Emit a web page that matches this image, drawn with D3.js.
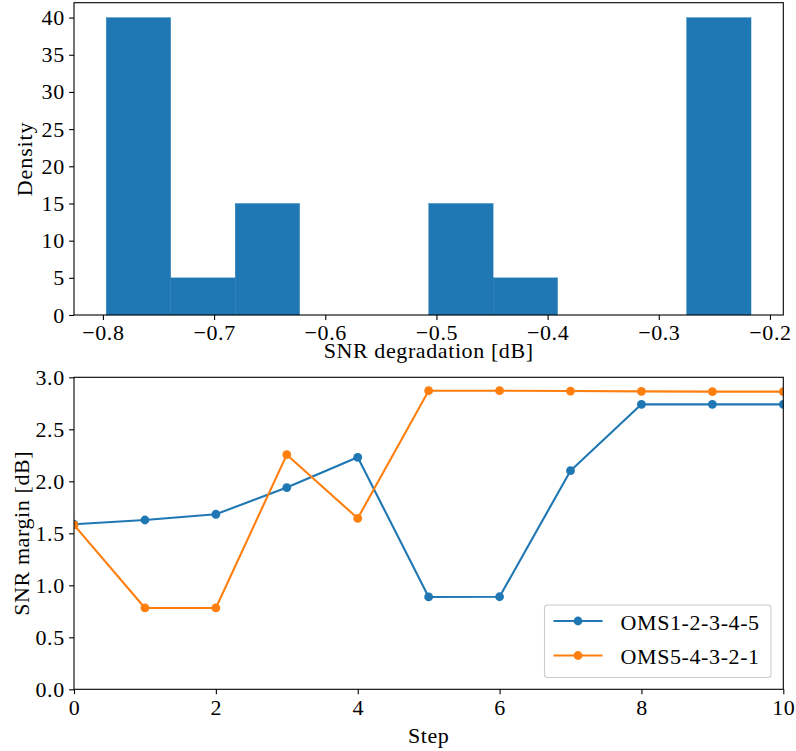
<!DOCTYPE html>
<html>
<head>
<meta charset="utf-8">
<script src="https://cdn.jsdelivr.net/npm/d3@7"></script>
<style>
  html, body { margin: 0; padding: 0; background: #fff; }
  svg { display: block; }
  text { font-family: "Liberation Serif", "Times New Roman", serif; fill: #000; letter-spacing: 0.6px; }
</style>
</head>
<body>
<svg id="chart" width="796" height="751"></svg>
<script>
// ---------- Data ----------
const binEdges = [-0.797, -0.739, -0.681, -0.623, -0.565, -0.507, -0.449, -0.391, -0.333, -0.275, -0.217];
const densities = [40, 5, 15, 0, 0, 15, 5, 0, 0, 40];
const histXTicks = [-0.8, -0.7, -0.6, -0.5, -0.4, -0.3, -0.2];
const histYTicks = [0, 5, 10, 15, 20, 25, 30, 35, 40];

const steps = [0, 1, 2, 3, 4, 5, 6, 7, 8, 9, 10];
const oms12345 = [1.587, 1.628, 1.683, 1.940, 2.231, 0.888, 0.890, 2.102, 2.740, 2.740, 2.740];
const oms54321 = [1.580, 0.782, 0.782, 2.256, 1.644, 2.871, 2.871, 2.868, 2.865, 2.862, 2.862];
const seriesNames = ["OMS1-2-3-4-5", "OMS5-4-3-2-1"];
const lineXTicks = [0, 2, 4, 6, 8, 10];
const lineYTicks = [0, 0.5, 1.0, 1.5, 2.0, 2.5, 3.0];

const colors = ["#1f77b4", "#ff7f0e"];
const FONT = 22;
const TICKLEN = 4.9, TICKPAD = 4.9;
const SERIF = '"Liberation Serif", "Times New Roman", serif';

const svg = d3.select("#chart");

// ---------- Top: histogram ----------
const L = 74, R = 783.3;
const top1 = 2.7, bot1 = 315;
const span = binEdges[binEdges.length - 1] - binEdges[0];
const x1 = d3.scaleLinear()
  .domain([binEdges[0] - 0.05 * span, binEdges[binEdges.length - 1] + 0.05 * span])
  .range([L, R]);
const y1 = d3.scaleLinear().domain([0, d3.max(densities) * 1.05]).range([bot1, top1]);

const g1 = svg.append("g");
const bins = densities.map((d, i) => ({ x0: binEdges[i], x1: binEdges[i + 1], v: d }));
g1.selectAll("rect.bar").data(bins).enter().append("rect")
  .attr("class", "bar")
  .attr("x", d => x1(d.x0))
  .attr("width", d => x1(d.x1) - x1(d.x0))
  .attr("y", d => y1(d.v))
  .attr("height", d => y1(0) - y1(d.v))
  .attr("fill", colors[0])
  .attr("stroke", colors[0]).attr("stroke-width", 0.3);

function styleAxis(g, left) {
  g.select(".domain").remove();
  g.attr("font-family", null).attr("font-size", null);
  g.selectAll(".tick line").attr("stroke", "#000").attr("stroke-width", 1.1);
  g.selectAll(".tick text").style("font-size", FONT + "px").style("font-family", SERIF);
  if (left) g.selectAll(".tick text").attr("dx", "0.6px");
}

const fmt1 = d3.format(".1f");
g1.append("g").attr("transform", `translate(0,${bot1})`)
  .call(d3.axisBottom(x1).tickValues(histXTicks).tickFormat(fmt1).tickSizeInner(TICKLEN).tickSizeOuter(0).tickPadding(TICKPAD))
  .call(g => styleAxis(g, false));
g1.append("g").attr("transform", `translate(${L},0)`)
  .call(d3.axisLeft(y1).tickValues(histYTicks).tickFormat(d3.format("d")).tickSizeInner(TICKLEN).tickSizeOuter(0).tickPadding(TICKPAD))
  .call(g => styleAxis(g, true));

g1.append("rect").attr("x", L).attr("y", top1).attr("width", R - L).attr("height", bot1 - top1)
  .attr("fill", "none").attr("stroke", "#000").attr("stroke-width", 1.1);

g1.append("text").attr("x", (L + R) / 2).attr("y", 357.5).attr("text-anchor", "middle")
  .style("font-size", FONT + "px").text("SNR degradation [dB]");
g1.append("text").attr("transform", `translate(31.7,${(top1 + bot1) / 2}) rotate(-90)`)
  .attr("text-anchor", "middle").style("font-size", FONT + "px").style("letter-spacing", "0.9px").text("Density");

// ---------- Bottom: line chart ----------
const top2 = 377.3, bot2 = 689.3;
const x2 = d3.scaleLinear().domain([0, 10]).range([L, R]);
const y2 = d3.scaleLinear().domain([0, 3]).range([bot2, top2]);

const g2 = svg.append("g");
svg.append("defs").append("clipPath").attr("id", "clip2")
  .append("rect").attr("x", L).attr("y", top2).attr("width", R - L).attr("height", bot2 - top2);

g2.append("g").attr("transform", `translate(0,${bot2})`)
  .call(d3.axisBottom(x2).tickValues(lineXTicks).tickFormat(d3.format("d")).tickSizeInner(TICKLEN).tickSizeOuter(0).tickPadding(TICKPAD))
  .call(g => styleAxis(g, false));
g2.append("g").attr("transform", `translate(${L},0)`)
  .call(d3.axisLeft(y2).tickValues(lineYTicks).tickFormat(fmt1).tickSizeInner(TICKLEN).tickSizeOuter(0).tickPadding(TICKPAD))
  .call(g => styleAxis(g, true));

const plot = g2.append("g").attr("clip-path", "url(#clip2)");
const line = d3.line().x((d, i) => x2(steps[i])).y(d => y2(d));
[oms12345, oms54321].forEach((vals, k) => {
  plot.append("path").datum(vals).attr("d", line)
    .attr("fill", "none").attr("stroke", colors[k]).attr("stroke-width", 2.1)
    .attr("stroke-linejoin", "round").attr("stroke-linecap", "butt");
  plot.selectAll(null).data(vals).enter().append("circle")
    .attr("cx", (d, i) => x2(steps[i])).attr("cy", d => y2(d)).attr("r", 4.4)
    .attr("fill", colors[k]);
});

g2.append("rect").attr("x", L).attr("y", top2).attr("width", R - L).attr("height", bot2 - top2)
  .attr("fill", "none").attr("stroke", "#000").attr("stroke-width", 1.1);

g2.append("text").attr("x", (L + R) / 2).attr("y", 743).attr("text-anchor", "middle")
  .style("font-size", FONT + "px").text("Step");
g2.append("text").attr("transform", `translate(29.3,${(top2 + bot2) / 2}) rotate(-90)`)
  .attr("text-anchor", "middle").style("font-size", FONT + "px").text("SNR margin [dB]");

// Legend
const lg = g2.append("g");
lg.append("rect").attr("x", 544.5).attr("y", 605).attr("width", 226.5).attr("height", 72.5)
  .attr("rx", 3).attr("ry", 3)
  .attr("fill", "#fff").attr("fill-opacity", 0.8).attr("stroke", "#cccccc").attr("stroke-width", 1.1);
const legY = [621, 655.5];
seriesNames.forEach((name, k) => {
  lg.append("line").attr("x1", 553.5).attr("x2", 602.5).attr("y1", legY[k]).attr("y2", legY[k])
    .attr("stroke", colors[k]).attr("stroke-width", 2.1);
  lg.append("circle").attr("cx", 578).attr("cy", legY[k]).attr("r", 4.4).attr("fill", colors[k]);
  lg.append("text").attr("x", 620.5).attr("y", legY[k] + 8.5)
    .style("font-size", FONT + "px").text(name);
});
</script>
</body>
</html>
